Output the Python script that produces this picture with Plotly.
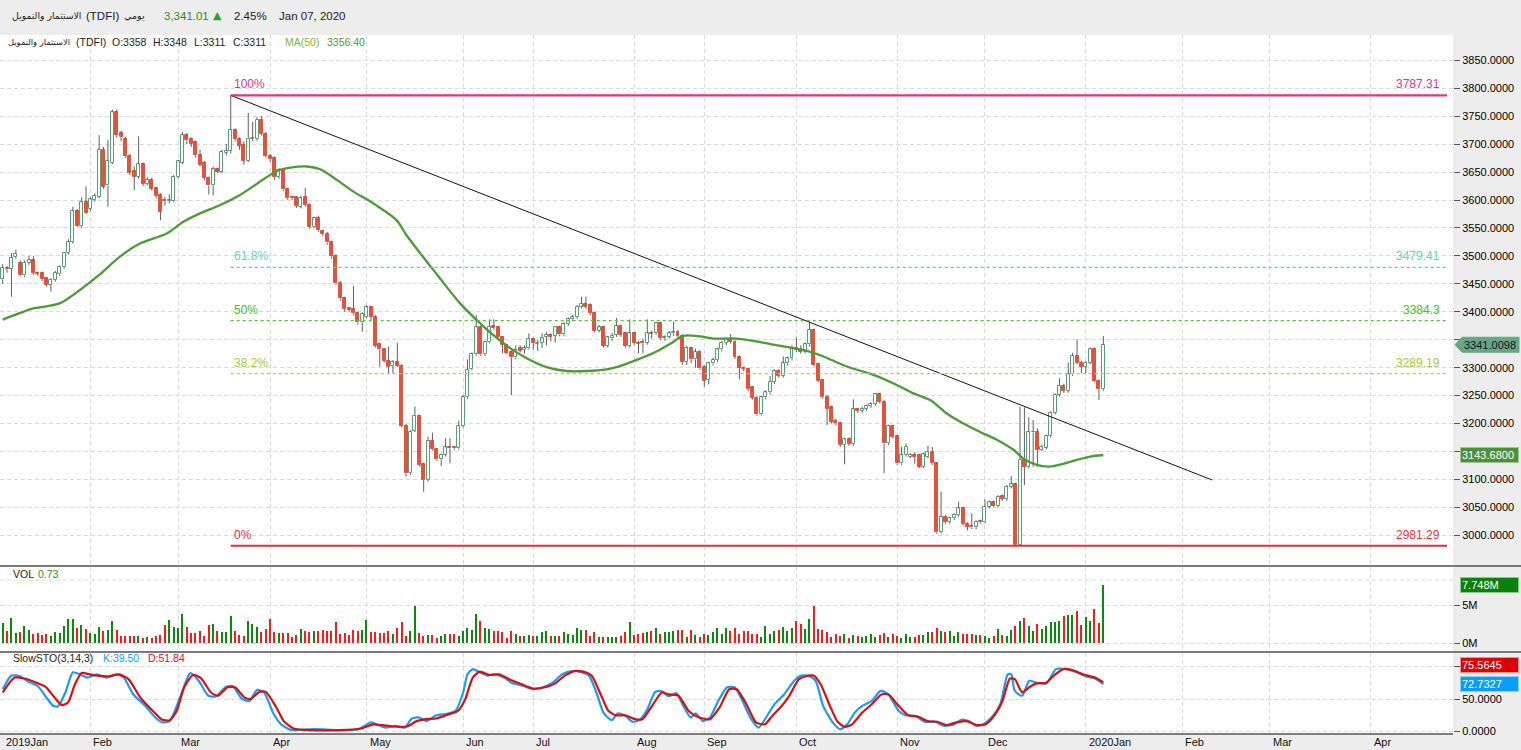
import plotly.graph_objects as go

# ---------------- data ----------------
month_labels = ['2019Jan', 'Feb', 'Mar', 'Apr', 'May', 'Jun', 'Jul', 'Aug', 'Sep',
                'Oct', 'Nov', 'Dec', '2020Jan', 'Feb', 'Mar', 'Apr']
month_idx = [0, 20, 40, 61, 83, 105, 121, 144, 160, 181, 204, 224, 247, 269, 289, 312]

opens = [
3458,3478,3477,3498,3487,3465,3488,3492,3470,3469,
3460,3448,3457,3467,3480,3505,3525,3580,3553,3596,
3584,3600,3606,3690,3626,3667,3757,3720,3710,3678,
3652,3642,3664,3629,3636,3621,3609,3600,3598,3598,
3641,3667,3716,3709,3704,3680,3667,3640,3626,3655,
3651,3685,3688,3725,3709,3698,3670,3709,3709,3744,
3719,3679,3675,3641,3654,3619,3605,3605,3588,3605,
3591,3552,3568,3545,3540,3524,3500,3452,3424,3406,
3405,3397,3381,3391,3408,3391,3341.7,3332.8,3311.9,3303.6,
3309.5,3303.6,3196.2,3110.9,3187.2,3214.1,3127.6,3099.0,3169.3,3153.8,
3135.9,3143.7,3157.4,3157.4,3155.6,3195.6,3246.9,3297.0,3323.8,3372.1,
3323.8,3345.3,3374.5,3372.1,3354.2,3340.5,3328.6,3318.5,3334.6,3331.6,
3334.6,3350.7,3342.3,3344.7,3355.5,3358.4,3356.6,3372.1,3359.6,3378.1,
3386.5,3390.0,3409.1,3413.9,3412.1,3397.2,3366.2,3372.1,3339.3,3352.5,
3358.4,3374.5,3361.4,3339.3,3361.4,3344.7,3345.3,3344.7,3361.4,3361.4,
3379.3,3352.5,3355.5,3361.4,3364.4,3357.2,3310.7,3334.6,3314.9,3328.6,
3301.8,3277.9,3307.7,3313.7,3332.8,3344.7,3350.7,3346.5,3319.7,3300.0,
3297.6,3264.8,3246.3,3216.5,3246.9,3255.8,3274.3,3294.0,3285.7,3307.7,
3316.7,3335.8,3332.8,3328.6,3341.7,3367.4,3306.5,3277.9,3248.1,3229.0,
3205.1,3200.4,3161.6,3171.7,3163.4,3225.4,3222.4,3226.0,3231.4,3234.9,
3252.3,3239.1,3164.6,3195.6,3177.7,3128.8,3143.7,3140.7,3143.7,3143.7,
3122.8,3140.7,3149.7,3128.8,3005.3,3033.3,3024.4,3030.4,3036.3,3048.3,
3020.2,3016.6,3014.2,3026.2,3023.2,3051.2,3059.0,3053.0,3070.3,3064.9,
3087.0,3091.2,2982.6,3134.7,3122.8,3184.2,3185.4,3152.6,3156.8,3177.7,
3219.4,3251.1,3267.8,3258.2,3288.0,3320.8,3309.0,3301.8,3308.9,3332.8,
3276.7,3261.2]

highs = [
3485,3482,3505,3511,3492,3492,3500,3500,3472,3472,
3462,3460,3473,3483,3507,3530,3588,3584,3605,3624,
3605,3612,3716,3695,3707,3762,3762,3724,3713,3682,
3660,3714,3667,3640,3640,3623,3612,3605,3610,3645,
3672,3722,3720,3712,3706,3690,3670,3642,3660,3658,
3690,3700,3787.31,3728,3712,3705,3756,3740,3749,3750,
3722,3682,3678,3657,3656,3621,3608,3607,3608,3622,
3594,3570,3572,3547,3543,3527,3503,3455,3427,3408,
3446,3400,3399,3412,3411,3394,3344,3334,3337.5,3313.7,
3344.7,3306,3199,3188,3230.2,3216,3130,3176.5,3183.6,3156,
3146,3173.5,3173.5,3160,3205,3251,3314.9,3327,3394.2,3375,
3348,3386.5,3386.5,3375,3356,3343,3331,3340,3340,3340,
3361.4,3354,3350,3361.4,3364,3361,3373.3,3375,3381,3390,
3394.2,3412,3427,3427,3415,3400,3376,3375,3357,3362,
3389,3377,3364,3386.5,3364,3348,3352,3386.5,3366,3382,
3382,3358,3366,3382.3,3367,3360,3339,3337,3334,3331,
3304,3310,3318,3336,3348,3354,3360.2,3349,3322,3302,
3300,3267,3249,3250,3259,3285,3297,3297,3320,3320,
3340,3354.2,3340,3345,3382.3,3370,3309,3280,3251,3232,
3208,3203,3175,3175,3243.3,3228,3230,3234,3238,3254,
3255,3242,3198,3198,3180,3158.6,3164,3147,3149,3146,
3148,3160,3158,3131,3078.1,3036,3033,3039.3,3060.2,3051,
3023,3039.3,3027,3028,3064.3,3062,3062,3072,3073,3090,
3106.2,3094,3230.2,3229.0,3211.1,3206.3,3191.4,3162,3180,3222,
3254,3280.9,3271,3308.9,3326.8,3350.7,3312,3312,3336,3336,
3279,3356.6]

lows = [
3450,3470,3427,3495,3463,3462,3484,3466,3464,3455,
3445,3436,3454,3464,3477,3502,3522,3552,3550,3575,
3580,3597,3603,3620,3588,3664,3712,3705,3675,3645,
3618,3638,3625,3626,3617,3603,3564,3590,3594,3596,
3638,3664,3700,3695,3676,3660,3635,3610,3608,3648,
3648,3680,3683,3705,3690,3663,3668,3705,3706,3715,
3676,3668,3636,3638,3616,3600,3600,3586,3585,3588,
3549,3549,3543,3535,3520,3495,3448,3420,3400,3400,
3394,3377,3364,3388,3385,3336,3301.8,3309,3289.8,3289.8,
3301,3193,3105,3108,3185,3123,3078.1,3096,3151,3133,
3124,3141,3128.8,3152,3153,3193,3244,3295,3321,3321,
3321,3343,3367,3351,3325.6,3324,3251.0,3315,3327,3325,
3332,3332,3330,3335,3340,3347,3345,3356,3356,3375,
3383,3387,3406,3405,3394,3363,3363,3336,3336,3348,
3355,3355,3336,3336,3341,3326,3326,3341,3352,3358,
3349,3348,3352,3357,3353,3305,3305,3308,3300,3296,
3266,3270,3304,3310,3329,3340,3343,3316,3279,3294,
3258,3243,3214,3214,3243,3252,3271,3282,3282,3304,
3313,3328,3325,3326,3338,3302,3274,3244,3197.4,3200,
3197,3158,3127,3160,3160,3219,3219,3223,3228,3232,
3236,3110.9,3161,3173,3126,3126,3141,3138,3128,3120,
3120,3138,3126,3003,3003,3021,3021,3027,3033,3017,
3009,3011,3011,3021,3021,3048,3050,3050,3062,3062,
3084,2981.29,2982,3090,3120,3122.8,3122.8,3150,3154,3175,
3216,3248,3255,3255,3285,3306,3290,3290,3306,3274,
3242.1,3258]

closes = [
3478,3476,3497,3504,3465,3488,3493,3469,3468,3459,
3448,3457,3470,3480,3505,3525,3580,3554,3596,3577,
3601,3607,3690,3624,3670,3757,3717,3712,3678,3649,
3642,3664,3629,3636,3620,3607,3579,3599,3600,3641,
3669,3716,3707,3701,3680,3663,3639,3626,3655,3651,
3686,3688,3725,3709,3697,3670,3710,3711,3744,3718,
3679,3673,3641,3654,3619,3603,3603,3589,3603,3591,
3552,3567,3546,3539,3524,3499,3451,3424,3405,3404,
3397,3381,3396,3408,3391,3339,3332.8,3311.9,3301.8,3309.5,
3303.6,3196.2,3110.9,3185.5,3214.1,3125.8,3099.0,3169.3,3153.8,3135.9,
3143.7,3157.4,3155.6,3155.6,3195.6,3246.9,3295.8,3323.8,3372.1,3323.8,
3345.3,3373.3,3370.4,3354.2,3340.5,3326.8,3318.5,3331.6,3330.4,3334.6,
3350.7,3343.5,3344.7,3352.5,3358.4,3355.5,3372.1,3359.6,3378.1,3386.5,
3390.0,3409.1,3413.9,3409.1,3397.2,3366.2,3372.1,3339.3,3354.2,3357.2,
3374.5,3358.4,3339.3,3361.4,3344.7,3342.9,3343.5,3361.4,3360.2,3379.3,
3352.5,3354.2,3361.4,3364.4,3356.6,3310.7,3334.6,3314.9,3328.6,3298.8,
3276.7,3307.7,3313.7,3332.8,3344.7,3350.7,3346.5,3319.7,3300.0,3297.6,
3261.8,3246.3,3216.5,3246.9,3255.8,3274.3,3294.0,3285.7,3307.7,3316.7,
3335.8,3331.6,3328.6,3341.7,3367.4,3304.7,3276.7,3246.9,3226.0,3203.3,
3200.4,3161.6,3171.7,3163.4,3225.4,3222.4,3226.0,3231.4,3234.9,3252.3,
3239.1,3164.6,3195.6,3176.5,3128.8,3143.7,3158.6,3143.7,3140.7,3122.8,
3144.9,3149.7,3128.8,3005.3,3033.3,3024.4,3030.4,3036.3,3048.3,3020.2,
3015.4,3014.2,3024.4,3023.2,3051.2,3059.0,3053.0,3069.1,3064.9,3087.0,
3091.2,2982.6,3134.7,3122.8,3184.2,3185.4,3152.6,3158.6,3177.7,3219.4,
3251.1,3267.8,3258.2,3288.0,3320.8,3308.9,3301.8,3308.9,3332.8,3276.7,
3261.2,3341.01]

volumes_m = [
2.67,1.64,3.40,1.34,1.51,2.28,1.72,1.21,1.34,1.12,
1.21,0.91,1.51,1.34,2.28,3.15,3.15,1.94,2.37,1.85,
1.34,1.21,2.11,1.64,1.77,2.89,1.77,0.99,0.91,0.91,
0.99,0.91,0.69,0.78,0.69,0.99,1.12,2.37,3.02,2.16,
1.94,3.84,2.16,1.34,1.34,1.64,0.91,2.37,2.59,1.64,
1.42,1.42,3.66,1.55,1.08,0.91,2.89,2.50,2.20,1.42,
1.85,3.15,1.42,1.34,1.34,1.34,0.78,1.08,1.85,1.64,
1.42,1.64,1.64,1.77,1.64,1.64,2.84,1.21,1.34,1.08,
1.77,1.64,1.77,3.06,1.51,1.51,1.34,1.34,1.64,1.21,
1.94,2.80,0.99,1.55,5.00,1.34,0.99,1.08,1.08,0.69,
0.99,1.21,1.21,1.21,0.99,1.64,1.98,1.77,3.84,2.93,
1.98,1.85,1.64,1.64,1.42,0.73,1.64,1.21,0.99,0.91,
1.08,0.91,0.91,1.51,1.64,0.91,0.99,0.99,1.42,1.21,
1.08,1.98,1.72,1.72,0.91,1.42,0.86,0.78,0.78,0.86,
0.86,0.99,1.42,2.80,1.08,1.21,1.34,1.51,1.55,1.98,
1.21,1.51,1.51,1.64,1.72,1.72,0.86,1.72,1.08,0.86,
1.21,1.08,1.51,1.94,1.21,1.94,1.64,1.94,1.21,1.64,
1.64,1.21,1.21,0.78,2.28,1.21,1.64,1.72,2.16,1.64,
1.98,2.93,2.50,1.85,3.23,5.00,1.85,1.72,1.51,0.78,
1.21,0.99,1.21,0.69,1.08,0.99,0.86,0.99,1.21,0.86,
1.08,1.34,0.78,1.21,0.99,0.69,1.21,0.86,0.86,1.08,
1.08,1.51,1.42,2.06,1.64,1.42,1.64,0.99,1.42,1.21,
1.21,1.21,1.08,1.08,0.91,0.69,0.99,1.85,1.08,0.99,
1.77,2.30,3.00,3.40,2.30,1.60,2.50,1.85,2.30,2.80,
2.80,3.00,3.60,3.70,3.70,4.30,2.40,3.50,2.90,4.50,
2.70,7.748]

ma_x = [0,4,7,13,17.6,22,26.8,31.3,37.4,41.2,45,49.6,54.1,59.5,62.5,65.6,69.4,72.4,76.2,80,
        84.5,89.8,92.1,95.2,98.2,101.2,104.3,108.1,111.9,115.7,119.5,124,128.6,133.2,137.7,140,
        144.6,149.1,152.9,155.2,159,162.1,167.4,171.2,175.7,180.3,183.4,187.2,192.5,198.6,203.9,
        207.7,211.5,215.3,219.1,222.9,226.7,230.5,232.8,235.8,238.8,241.9,244.9,248,251]
ma_v = [3386,3398,3406,3415,3439,3466,3499,3522,3540,3561,3576,3591,3609,3637,3652,3658,3660,3655,3636,3615,
        3594,3564,3537,3505,3475,3445,3415,3385,3358,3335,3317,3301,3294,3294,3297,3301,
        3314,3329,3346,3357,3356,3352,3352,3348,3341,3335,3330,3320,3302,3287,3269,
        3254,3242,3218,3200,3185,3171,3153,3137,3126,3123,3128,3135,3141,3143.68]

k_x = [0,2,4,6,8,10,11.5,12.6,14.3,16,17.6,19.3,21.5,23.7,25.9,27.6,29.8,32.5,34.8,36.4,38.1,40.3,42,42.8,
       44.7,46.9,48.6,50.8,52.4,54.6,56.3,58,59.6,61.8,63.5,65.7,67.9,71.2,76.8,81.2,84,85.6,87.3,89.5,
       91.7,93.3,95,96.6,98.9,101.1,103.3,105,106,107.2,108.8,110.5,112.1,114.3,116,118.8,121,123.2,
       125.4,127.6,129.8,132,133.7,135.4,137,138.9,140.3,142,143.6,145.3,147,148.8,150.3,151.9,153.6,
       155.2,156.9,158,159.7,161.3,163,165.2,166.9,168.5,170.7,172.4,174.4,176,178.2,180.5,182.1,183.8,
       185.4,187.1,189.3,191,192.6,194.3,196,198.2,200.2,202,204.3,205.9,208.1,210.3,212.6,214.8,217,
       218.6,220.3,222,223.6,225.8,227.5,229.2,230,230.8,232.5,234.1,235.8,238,240.2,242.4,244.7,246.9,
       249.1,251]
k_v = [65,86,85,76,70,52,39.5,38.5,60,91,88,83,88,83,88,83,57,39.5,21.5,14,16,50,80.5,90,
       78,55,54,68,70,50,47,64,60,27,11,2.5,2.5,3.5,2,3.5,14,10,6,8.7,
       6,20,21.5,16,25,27,32,60,88,96,91,86,88,83,75,70,65,68,
       75,88,93,91,86,60,29,17.4,28,24,15,18,34,61,62,54,59,
       39.5,21.5,28,16,21.5,44.6,68,68,50,19,6,25,42,57,78,86,86,
       78,39.5,14,3.5,11,29,39.5,47,62.5,57,32,25,24,15,15,8.7,11,
       18,16,8.7,11,24,42,88,88,62.5,55,78,75,74,96,96,92,85,
       81.5,72.73]

d_x = [0,2.7,4.9,7.7,9.9,12.1,13.5,14.9,16.5,18,19.8,21.5,24.3,26.5,28.7,31.4,34.2,36.4,38.1,39.7,
       41.4,43.4,45.3,47.5,49.1,51.3,53,55.2,56.6,58.5,60,62.4,64.1,66.3,69,76.8,81.7,84.5,86.7,88.9,
       92.2,94.4,96.6,98.9,101.1,103.9,105.5,107.2,108.8,111,113.2,115.5,118.2,121,123.7,126,128.2,
       130.4,132.6,134.3,136.5,138.1,139.8,142,144.2,145.9,148.1,150.3,151.9,154.1,156.4,158,159.7,
       161.3,163.5,165.7,167.4,169.6,171.8,173.8,175.5,177.7,179.3,181.6,183.2,184.9,186.5,188.8,
       190.4,192.1,193.7,196,198.2,200.4,202,204.3,206.5,208.7,210.9,213.1,215.3,217.5,219.8,222,
       224.2,226.4,228,229.7,230.8,232.5,234.1,235.8,238,239.7,241.9,244.1,246.3,249.1,251]
d_v = [60,83,81.5,75,68,50,40.5,44.6,73,90,88,86,85,88,80.5,52,32,18,17.4,32,
       68,87,81.5,60,55,68,68,52,50,61,61,37,16,4.6,2.5,2,4.6,11,9.7,7.7,
       7.7,16,19,20,25,32,50,83,92,87,88,80.5,73,66,68,74,86,
       93,92,86,55,32,25,25,19,19,39.5,60,57,55,32,24,20,
       19,37,65,65,42,14,11,24,39.5,54,80.5,85,86,73,37,
       15,7,11,29,42,57,57,39.5,25,23,16,15,10,14,16,10,
       11,27,47,81.5,80.5,60,68,74,75,86,96,94,88,83,75.56]

fib_levels = [3787.31, 3479.41, 3384.3, 3289.19, 2981.29]
fib_names = ['100%', '61.8%', '50%', '38.2%', '0%']
fib_values_text = ['3787.31', '3479.41', '3384.3', '3289.19', '2981.29']
fib_start_idx = 52
trend_x = [52, 275.8]
trend_v = [3787.31, 3099.0]

last_price = 3341.0098
ma_last = 3143.68
vol_last_m = 7.748
k_last = 72.7327
d_last = 75.5645

price_ticks = list(range(3000, 3851, 50))
hidden_price_ticks = [3150, 3350]   # covered by the value tags in the reference

# ---------------- geometry ----------------
W, H = 1521, 750
ML, MR, MT, MB = 0, 68, 35, 16
PW = W - ML - MR
PH = H - MT - MB
BOTTOM = H - MB
PX_PER_DAY = 4.385
X0 = 2.7
x_range = [(0 - X0) / PX_PER_DAY, (PW - X0) / PX_PER_DAY]


def pxX(px):
    return (px - ML) / PW


def pxY(py):
    return (BOTTOM - py) / PH


def pdom(top_px, bot_px):
    return [pxY(bot_px), pxY(top_px)]


main_dom = pdom(35, 565)
vol_dom = pdom(567, 651)
sto_dom = pdom(653, 734)

ppu = (535.3 - 60.3) / 850.0
main_range = [3000 - (565 - 535.3) / ppu, 3850 + (60.3 - 35) / ppu]
vppu = (643 - 605.5) / 5e6
vol_range = [-(651 - 643) / vppu, (643 - 567) / vppu]
sppu = (731.5 - 699) / 50.0
sto_range = [-(734 - 731.5) / sppu, 50 + (699 - 653) / sppu]

FONT = 'Liberation Sans, Arial, sans-serif'
AR_FONT = 'DejaVu Sans, sans-serif'
GRID = '#dadada'
GREEN_C = '#5a9e78'
RED_C = '#e0533f'

n = len(closes)
idx = list(range(n))

fig = go.Figure()

wx, wy = [], []
for i in idx:
    o, h, l, c = opens[i], highs[i], lows[i], closes[i]
    top, bot = max(o, c), min(o, c)
    h = max(h, top)
    l = min(l, bot)
    if h > top:
        wx += [i, i, None]
        wy += [top, h, None]
    if l < bot:
        wx += [i, i, None]
        wy += [l, bot, None]

up_x, up_b, up_h, dn_x, dn_b, dn_h = [], [], [], [], [], []
for i in idx:
    o, c = opens[i], closes[i]
    b = min(o, c)
    hgt = max(abs(c - o), 1.3)
    if c >= o:
        up_x.append(i); up_b.append(b); up_h.append(hgt)
    else:
        dn_x.append(i); dn_b.append(b); dn_h.append(hgt)

fig.add_trace(go.Bar(x=up_x, y=up_h, base=up_b, width=0.68, xaxis='x', yaxis='y',
                     marker=dict(color='white', line=dict(color=GREEN_C, width=1)),
                     hoverinfo='skip'))
fig.add_trace(go.Bar(x=dn_x, y=dn_h, base=dn_b, width=0.68, xaxis='x', yaxis='y',
                     marker=dict(color=RED_C, line=dict(color=RED_C, width=1)),
                     hoverinfo='skip'))
fig.add_trace(go.Scatter(x=wx, y=wy, mode='lines', xaxis='x', yaxis='y',
                         line=dict(color='#5f5f5f', width=1), hoverinfo='skip'))

fig.add_trace(go.Scatter(x=ma_x, y=ma_v, mode='lines', xaxis='x', yaxis='y',
                         line=dict(color='#4e9a38', width=2.3, shape='spline', smoothing=0.8),
                         hoverinfo='skip'))

fig.add_trace(go.Scatter(x=trend_x, y=trend_v, mode='lines', xaxis='x', yaxis='y',
                         line=dict(color='#111111', width=1), hoverinfo='skip'))

fib_line_colors = ['#d8388c', '#5ec9a6', '#55c23a', '#b4cc40', '#ee2e2e']
fib_text_colors = ['#d8388c', '#6dd0b0', '#4cbb30', '#a9c636', '#f03030']
fib_end = (1447 - X0) / PX_PER_DAY
for k, lev in enumerate(fib_levels):
    solid = k in (0, 4)
    fig.add_trace(go.Scatter(x=[fib_start_idx, fib_end], y=[lev, lev], mode='lines',
                             xaxis='x', yaxis='y', hoverinfo='skip',
                             line=dict(color=fib_line_colors[k], width=2.2 if solid else 1.2,
                                       dash='solid' if solid else 'dot')))

vol_colors = ['#0a8a0a' if closes[i] >= opens[i] else '#ff1a1a' for i in idx]
fig.add_trace(go.Bar(x=idx, y=[v * 1e6 for v in volumes_m], width=0.32, xaxis='x2', yaxis='y2',
                     marker=dict(color=vol_colors, line=dict(width=0)), hoverinfo='skip'))

fig.add_trace(go.Scatter(x=k_x, y=k_v, mode='lines', xaxis='x3', yaxis='y3',
                         line=dict(color='#1e9bf0', width=2.2, shape='spline', smoothing=0.6),
                         hoverinfo='skip'))
fig.add_trace(go.Scatter(x=d_x, y=d_v, mode='lines', xaxis='x3', yaxis='y3',
                         line=dict(color='#d90f0f', width=2.2, shape='spline', smoothing=0.6),
                         hoverinfo='skip'))

grid_ticks = month_idx[1:]
xcommon = dict(range=x_range, showticklabels=False, tickvals=grid_ticks, showgrid=True,
               gridcolor=GRID, griddash='4px,3px', gridwidth=1, zeroline=False,
               showline=False, ticks='', fixedrange=True)
ycommon = dict(side='right', showgrid=True, gridcolor=GRID, griddash='4px,3px', zeroline=False,
               ticks='outside', ticklen=6, tickcolor='#555', tickwidth=1, showline=False,
               tickfont=dict(family=FONT, size=11, color='#000'), fixedrange=True)

fig.update_layout(
    width=W, height=H, autosize=False,
    margin=dict(l=ML, r=MR, t=MT, b=MB, pad=0),
    paper_bgcolor='#ededed', plot_bgcolor='white',
    showlegend=False, barmode='overlay', bargap=0,
    font=dict(family=FONT, size=11, color='#222'),
    xaxis=dict(domain=[0, 1], anchor='y', **xcommon),
    xaxis2=dict(domain=[0, 1], anchor='y2', matches='x', **xcommon),
    xaxis3=dict(domain=[0, 1], anchor='y3', matches='x', **xcommon),
    yaxis=dict(domain=main_dom, anchor='x', range=main_range, tickvals=price_ticks,
               ticktext=['' if v in hidden_price_ticks else f'{v:.4f}' for v in price_ticks],
               **ycommon),
    yaxis2=dict(domain=vol_dom, anchor='x2', range=vol_range, tickvals=[0, 5e6],
                ticktext=['0M', '5M'], **ycommon),
    yaxis3=dict(domain=sto_dom, anchor='x3', range=sto_range, tickvals=[0, 50, 100],
                ticktext=['0.0000', '50.0000', ''], **ycommon),
)

shapes = []
for yy in (566, 652):
    shapes.append(dict(type='line', xref='paper', yref='paper', x0=0, x1=W / PW,
                       y0=pxY(yy), y1=pxY(yy), line=dict(color='#555555', width=1.5)))
shapes.append(dict(type='line', xref='paper', yref='paper', x0=0, x1=1, y0=0, y1=0,
                   line=dict(color='#555555', width=1.5)))
shapes.append(dict(type='line', xref='paper', yref='paper', x0=0, x1=1, y0=pxY(580), y1=pxY(580),
                   line=dict(color=GRID, width=1, dash='4px,3px'), layer='below'))
dv = 7.5 / ppu
path = (f'M {pxX(1455)} {last_price} L {pxX(1462)} {last_price + dv} L {pxX(1519)} {last_price + dv} '
        f'L {pxX(1519)} {last_price - dv} L {pxX(1462)} {last_price - dv} Z')
shapes.append(dict(type='path', xref='paper', yref='y', path=path,
                   fillcolor='#69a683', line=dict(color='#69a683', width=1)))
fig.update_layout(shapes=shapes)

ann = []


def txt(text, px, py, size=11, color='#222', family=FONT, xanchor='left', yanchor='middle'):
    ann.append(dict(text=text, x=pxX(px), y=pxY(py), xref='paper', yref='paper',
                    showarrow=False, xanchor=xanchor, yanchor=yanchor,
                    font=dict(family=family, size=size, color=color)))


# header
txt('الاستثمار والتمويل', 83, 16, size=9.3, color='#222', family=AR_FONT, xanchor='right')
txt('(TDFI)', 84, 16, size=11.5, color='#222')
txt('يومي', 147, 16, size=9.5, color='#222', family=AR_FONT, xanchor='right')
txt('3,341.01', 162, 16, size=11.5, color='#2e8b2e')
txt('▲', 211, 16, size=11, color='#2ea02e', family='DejaVu Sans')
txt('2.45%', 232, 16, size=11.5, color='#222')
txt('Jan 07, 2020', 277, 16, size=11.5, color='#222')

# main panel legend
txt('الاستثمار والتمويل', 72, 42, size=8.3, color='#222', family=AR_FONT, xanchor='right')
txt('(TDFI)', 74, 42, size=10.5)
txt('O:3358', 110, 42, size=10.5)
txt('H:3348', 151, 42, size=10.5)
txt('L:3311', 192, 42, size=10.5)
txt('C:3311', 231, 42, size=10.5)
txt('MA(50)', 283, 42, size=10.5, color='#8aae3c')
txt('3356.40', 325, 42, size=10.5, color='#4f9a3a')

txt('VOL', 11, 574, size=10.5)
txt('0.73', 36, 574, size=10.5, color='#2e8b2e')
txt('SlowSTO(3,14,3)', 11, 658, size=10.5)
txt('K:39.50', 101, 658, size=10.5, color='#1e9bf0')
txt('D:51.84', 146, 658, size=10.5, color='#d90f0f')

for lab, mi in zip(month_labels, month_idx):
    ann.append(dict(text=lab, x=mi, y=pxY(742), xref='x', yref='paper', showarrow=False,
                    xanchor='left', yanchor='middle', xshift=1,
                    font=dict(family=FONT, size=11, color='#111')))

for k, lev in enumerate(fib_levels):
    ann.append(dict(text=fib_names[k], x=fib_start_idx + 0.3, y=lev, xref='x', yref='y',
                    showarrow=False, xanchor='left', yanchor='bottom', yshift=2,
                    font=dict(family=FONT, size=12, color=fib_text_colors[k])))
    ann.append(dict(text=fib_values_text[k], x=(1442 - X0) / PX_PER_DAY, y=lev, xref='x', yref='y',
                    showarrow=False, xanchor='right', yanchor='bottom', yshift=2,
                    font=dict(family=FONT, size=12, color=fib_text_colors[k])))

ann.append(dict(text=f'{last_price:.4f}', x=pxX(1490), y=last_price, xref='paper', yref='y',
                showarrow=False, xanchor='center', yanchor='middle',
                font=dict(family=FONT, size=11, color='#14142a')))


def tag(text, yval, yref, bg, border, fg='white'):
    ann.append(dict(text=text, x=pxX(1460), y=yval, xref='paper', yref=yref, showarrow=False,
                    xanchor='left', yanchor='middle', align='left', width=55, height=12,
                    bgcolor=bg, bordercolor=border, borderwidth=1, borderpad=1,
                    font=dict(family=FONT, size=11, color=fg)))


tag(f'{ma_last:.4f}', ma_last, 'y', '#4e8f3b', '#9cc895')
tag(f'{vol_last_m:.3f}M', vol_last_m * 1e6, 'y2', '#0a820a', '#8cc88c')
tag(f'{d_last:.4f}', pxY(665), 'paper', '#dd0000', '#f09090')
tag(f'{k_last:.4f}', k_last, 'y3', '#0a9cff', '#8ccfff')

fig.update_layout(annotations=ann)

fig.write_html('out.html',
               config={'displayModeBar': False},
               post_script="document.body.style.margin='0px';document.body.style.padding='0px';"
                           "document.body.style.overflow='hidden';")
